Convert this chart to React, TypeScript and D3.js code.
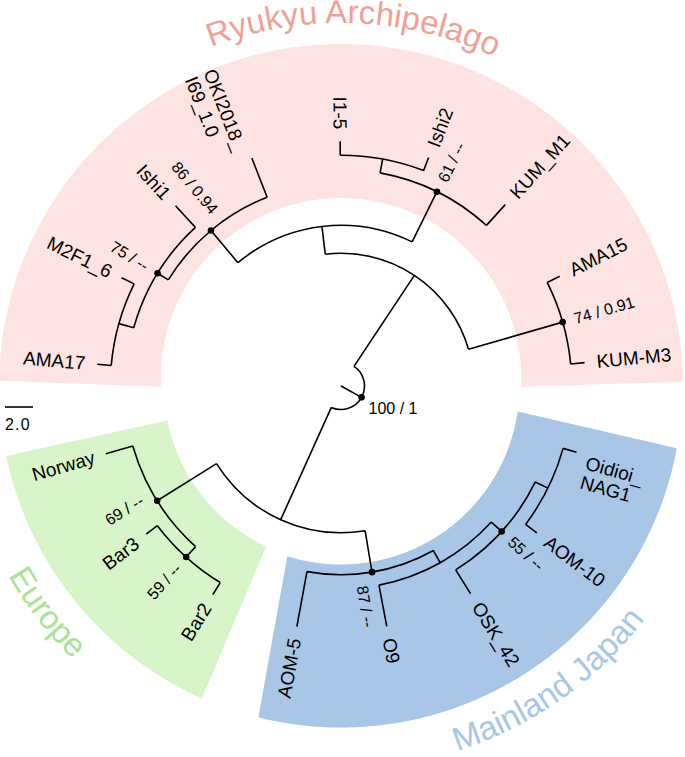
import React from 'react';
import * as d3 from 'd3';

const WIDTH = 685;
const HEIGHT = 757;
const CX = 341;
const CY = 386;

// Tree: [node id, parent id, distance from root (branch-length units)]
const treeNodes: [string, string | null, number][] = [
  ['root', null, 0],
  ['A', 'root', 7.8],
  ['A2', 'A', 9.8],
  ['A2a', 'A2', 12.8],
  ['B', 'A2a', 13.7],
  ['C', 'B', 14.8],
  ['AMA17', 'C', 15.8],
  ['M2F1_6', 'C', 15.8],
  ['Ishi1', 'B', 15.8],
  ['OKI2018_I69_1.0', 'A2a', 15.8],
  ['D', 'A2', 13.8],
  ['E', 'D', 14.8],
  ['I1-5', 'E', 15.8],
  ['Ishi2', 'E', 15.8],
  ['KUM_M1', 'D', 15.8],
  ['A1', 'A', 14.8],
  ['AMA15', 'A1', 15.8],
  ['KUM-M3', 'A1', 15.8],
  ['F', 'root', 8.8],
  ['I', 'F', 11.8],
  ['J', 'I', 12.8],
  ['K', 'J', 13.8],
  ['L', 'K', 14.8],
  ['Oidioi_NAG1', 'L', 15.8],
  ['AOM-10', 'L', 15.8],
  ['OSK_42', 'K', 15.8],
  ['O9', 'J', 15.8],
  ['AOM-5', 'I', 15.8],
  ['G', 'F', 13.8],
  ['H', 'G', 14.8],
  ['Bar2', 'H', 15.8],
  ['Bar3', 'H', 15.8],
  ['Norway', 'G', 15.8],
];

// Multi-line tip labels
const multiLineLabels: [string, string[]][] = [
  ['OKI2018_I69_1.0', ['OKI2018_', 'I69_1.0']],
  ['Oidioi_NAG1', ['Oidioi_', 'NAG1']],
];

// Support values (bootstrap / posterior)
const supportNodes = ['root', 'A2a', 'B', 'D', 'A1', 'G', 'H', 'I', 'K'];
const supportTexts = ['100 / 1', '86 / 0.94', '75 / --', '61 / --', '74 / 0.91', '69 / --', '59 / --', '87 / --', '55 / --'];

const cladeNames = ['Ryukyu Archipelago', 'Europe', 'Mainland Japan'];

const scaleBarValue = 2.0;
const scaleBarLabel = '2.0';

const LEAF_START = -174.9;
const DEG = Math.PI / 180;
const FONT = '"Liberation Sans", Arial, Helvetica, sans-serif';

const pol = (r: number, a: number): [number, number] => [CX + r * Math.cos(a * DEG), CY + r * Math.sin(a * DEG)];

const supportPerp: Record<string, number> = { A2a: -15, G: -9.5, I: 12 };

function measure(s: string, font: string) {
  const c = document.createElement('canvas').getContext('2d');
  if (!c) return s.length * 10;
  c.font = font;
  return c.measureText(s).width;
}

function bandPath(inA0: number, inA1: number, outA0: number, outA1: number, rIn: (a: number) => number, rOut: number) {
  const pts: [number, number][] = [];
  const N = 120;
  for (let i = 0; i <= N; i++) {
    const a = inA0 + ((inA1 - inA0) * i) / N;
    pts.push(pol(rIn(a), a));
  }
  for (let i = 0; i <= N; i++) {
    const a = outA1 + ((outA0 - outA1) * i) / N;
    pts.push(pol(rOut, a));
  }
  return (d3.line()(pts) || '') + 'Z';
}

function arcPath(r: number, a0: number, a1: number) {
  const [x0, y0] = pol(r, a0);
  const [x1, y1] = pol(r, a1);
  const sweep = a1 > a0 ? 1 : 0;
  return `M${x0},${y0}A${r},${r} 0 0 ${sweep} ${x1},${y1}`;
}

export default function App() {
  const root = d3
    .stratify<[string, string | null, number]>()
    .id((d) => d[0])
    .parentId((d) => d[1])(treeNodes) as any;

  const rScale = d3.scaleLinear().domain([0, 15.8]).range([23.5, 244.7]);

  const leaves = root.leaves();
  const step = 360 / leaves.length;
  leaves.forEach((l: any, i: number) => (l.angle = LEAF_START + i * step));
  root.eachAfter((n: any) => {
    if (n.children) n.angle = (n.children[0].angle + n.children[n.children.length - 1].angle) / 2;
  });

  const p = d3.path();
  root.each((n: any) => {
    const a = n.angle;
    const r = rScale(n.data[2]);
    const pr = n.parent ? rScale(n.parent.data[2]) : 0;
    const s = pol(pr, a);
    const e = pol(r, a);
    p.moveTo(s[0], s[1]);
    p.lineTo(e[0], e[1]);
    if (n.children) {
      const a0 = n.children[0].angle;
      const a1 = n.children[n.children.length - 1].angle;
      const st = pol(r, a0);
      p.moveTo(st[0], st[1]);
      p.arc(CX, CY, r, a0 * DEG, a1 * DEG, false);
    }
  });

  const byId: Record<string, any> = {};
  root.each((n: any) => (byId[n.id] = n));
  const multi = new Map(multiLineLabels);

  const leafFont = 19;
  const supFont = 16;

  const pinkIn = (a: number) => 180 + 8 * Math.max(0, Math.sin(-a * DEG));

  return (
    <svg width={WIDTH} height={HEIGHT} style={{ position: 'absolute', left: 0, top: 0, background: '#fff' }} fontFamily={FONT}>
      <defs>
        <path id="t-ryu" d={arcPath(363, -173, -3)} />
        <path id="t-eur" d={arcPath(383, 227.4, 57.4)} />
        <path id="t-jap" d={arcPath(383, 139.9, -30.1)} />
      </defs>
      <path d={bandPath(-180.2, 0.2, -179.1, -0.7, pinkIn, 342)} fill="#fde4e2" />
      <path d={bandPath(168.8, 115, 168.2, 114, () => 177, 342)} fill="#d8f5ca" />
      <path d={bandPath(107.5, 8.2, 104, 10.5, () => 178.5, 341.5)} fill="#a8c6e5" />

      <text fontSize={33} fill="#f0a196">
        <textPath href="#t-ryu" startOffset="50%" textAnchor="middle">{cladeNames[0]}</textPath>
      </text>
      <text fontSize={33} fill="#a9e494">
        <textPath href="#t-eur" startOffset="50%" textAnchor="middle">{cladeNames[1]}</textPath>
      </text>
      <text fontSize={33} fill="#a8c6e5">
        <textPath href="#t-jap" startOffset="50%" textAnchor="middle">{cladeNames[2]}</textPath>
      </text>

      <path d={p.toString()} fill="none" stroke="#000" strokeWidth={1.6} />

      {supportNodes.map((id) => {
        const n = byId[id];
        const [x, y] = pol(rScale(n.data[2]), n.angle);
        return <circle key={'dot' + id} cx={x} cy={y} r={3.3} fill="#000" />;
      })}

      {leaves.map((l: any) => {
        let a = l.angle;
        while (a > 180) a -= 360;
        while (a <= -180) a += 360;
        const right = Math.cos(a * DEG) >= 0;
        const rl = rScale(l.data[2]) + 12;
        const tr = `translate(${CX},${CY}) rotate(${a}) translate(${rl},0)${right ? '' : ' rotate(180)'}`;
        const lines = multi.get(l.id);
        if (lines) {
          const w1 = measure(lines[0], `${leafFont}px ${FONT}`);
          return (
            <g key={l.id} transform={tr} fontSize={leafFont}>
              <text x={0} y={14} textAnchor={right ? 'start' : 'end'}>{lines[0]}</text>
              <text x={right ? 0 : -w1} y={34} textAnchor="start">{lines[1]}</text>
            </g>
          );
        }
        return (
          <text key={l.id} transform={tr} fontSize={leafFont} dy="0.35em" textAnchor={right ? 'start' : 'end'}>
            {l.id}
          </text>
        );
      })}

      {supportNodes.map((id, i) => {
        const n = byId[id];
        const r = rScale(n.data[2]);
        if (!n.parent) {
          const [x, y] = pol(r, n.angle);
          return (
            <text key={'s' + id} x={x + 7} y={y + 17} fontSize={supFont}>
              {supportTexts[i]}
            </text>
          );
        }
        let a = n.angle;
        while (a > 180) a -= 360;
        while (a <= -180) a += 360;
        const right = Math.cos(a * DEG) >= 0;
        const tr = `translate(${CX},${CY}) rotate(${a}) translate(${r + 12},0)${right ? '' : ' rotate(180)'}`;
        return (
          <text key={'s' + id} transform={tr} y={supportPerp[id] || 0} dy="0.35em" fontSize={supFont} textAnchor={right ? 'start' : 'end'}>
            {supportTexts[i]}
          </text>
        );
      })}

      <line x1={5} x2={5 + rScale(scaleBarValue) - rScale(0)} y1={407} y2={407} stroke="#000" strokeWidth={1.6} />
      <text x={5} y={430} fontSize={16} letterSpacing={1.2}>{scaleBarLabel}</text>
    </svg>
  );
}
